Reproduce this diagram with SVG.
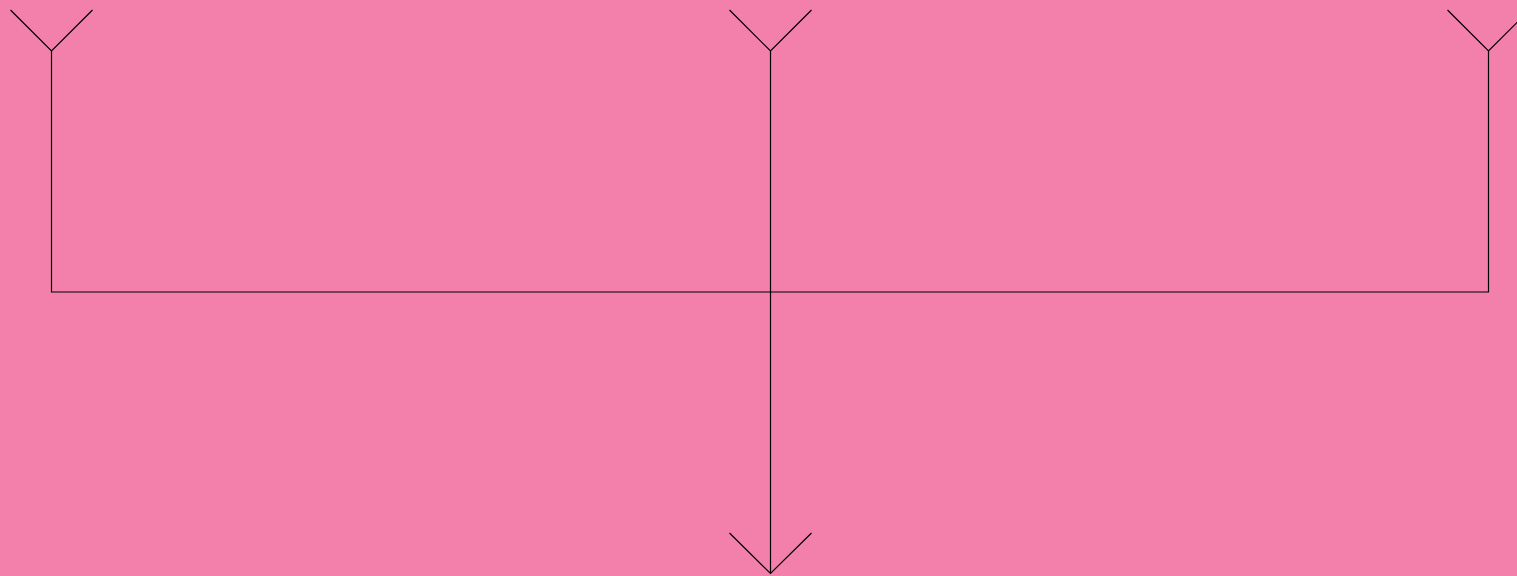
<svg xmlns="http://www.w3.org/2000/svg" width="1517" height="576" viewBox="0 0 1517 576">
<style>
.ln{fill:none;stroke:#000;stroke-width:1.2;stroke-linejoin:miter;stroke-linecap:butt}
</style>
<rect x="0" y="0" width="1517" height="576" fill="#F280AB"/>
<g id="connectors">
<path class="ln" d="M51.5,51 V292 H1488.5 V51"/>
<path class="ln" d="M770.5,51 V573"/>
<path class="ln" d="M10.5,10 L51.5,51 L92.5,10"/>
<path class="ln" d="M729.5,10 L770.5,51 L811.5,10"/>
<path class="ln" d="M1447.5,10 L1488.5,51 L1529.5,10"/>
<path class="ln" d="M729.5,533 L770.5,573.5 L811.5,533"/>
</g>
</svg>
